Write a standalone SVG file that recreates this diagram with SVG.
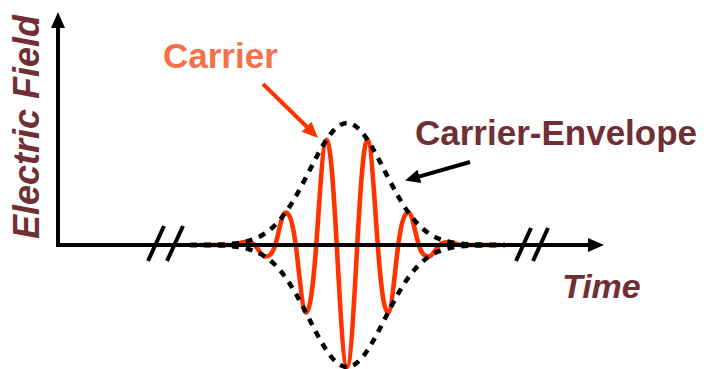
<svg xmlns="http://www.w3.org/2000/svg" width="709" height="369" viewBox="0 0 709 369">
<style>
.lbl{font-family:"Liberation Sans",Arial,sans-serif;font-weight:bold;font-size:35px}
.maroon{fill:#6f2f35}
.axis{stroke:#000;stroke-width:4;fill:none}
.brk{stroke:#000;stroke-width:4;fill:none}
.carrier{stroke:#ff3300;stroke-width:4.6;fill:none;stroke-linejoin:round}
.env{stroke:#000;stroke-width:4.5;fill:none;stroke-dasharray:7 7}
</style>
<rect width="709" height="369" fill="#fff"/>
<g id="carrier-wave">
<path class="carrier" d="M200,245 L234.25,245 C237.59,244.28 240.79,241.94 244.5,241.94 C248.21,241.94 251.41,241.84 254.75,245 C258.09,248.16 261.29,256.53 265,256.53 C268.71,256.53 271.91,255.27 275.25,245 C278.59,234.73 281.79,212.64 285.5,212.64 C289.21,212.64 292.41,220.13 295.75,245 C299.09,269.87 302.29,312.64 306,312.64 C309.71,312.64 312.91,289.85 316.25,245 C319.59,200.15 322.79,139.73 326.5,139.73 C330.21,139.73 333.41,184.76 336.75,245 C340.09,305.24 343.29,367 347,367 C350.71,367 353.91,305.24 357.25,245 C360.59,184.76 363.79,139.73 367.5,139.73 C371.21,139.73 374.41,200.15 377.75,245 C381.09,289.85 384.29,312.64 388,312.64 C391.71,312.64 394.91,269.87 398.25,245 C401.59,220.13 404.79,212.64 408.5,212.64 C412.21,212.64 415.41,234.73 418.75,245 C422.09,255.27 425.29,256.53 429,256.53 C432.71,256.53 435.91,248.16 439.25,245 C442.59,241.84 445.79,241.94 449.5,241.94 C453.21,241.94 456.41,244.28 459.75,245 L500,245"/>
</g>
<g id="axes">
<line class="axis" x1="58" y1="247" x2="58" y2="26"/>
<polygon points="58,12 51,28 65,28" fill="#000"/>
<line class="axis" x1="56" y1="245" x2="590" y2="245"/>
<polygon points="604,245 588,238 588,252" fill="#000"/>
<line class="brk" x1="148" y1="261" x2="164" y2="226"/>
<line class="brk" x1="167" y1="261" x2="183" y2="226"/>
<line class="brk" x1="516" y1="261" x2="531" y2="228"/>
<line class="brk" x1="533" y1="261" x2="548" y2="228"/>
</g>
<g id="envelope">
<path class="env" d="M190,245 L224,244.4 C230.83,244.05 237.67,243.44 244.5,241.94 C251.33,240.44 258.17,238 265,233.47 C271.83,228.94 278.67,222.18 285.5,212.64 C292.33,203.1 299.17,190.66 306,177.36 C312.83,164.06 319.67,150.08 326.5,139.73 C333.33,129.38 340.17,123 347,123 C353.83,123 360.67,129.38 367.5,139.73 C374.33,150.08 381.17,164.06 388,177.36 C394.83,190.66 401.67,203.1 408.5,212.64 C415.33,222.18 422.17,228.94 429,233.47 C435.83,238 442.67,240.44 449.5,241.94 C456.33,243.44 463.17,244.05 470,244.4 L505,245"/>
<path class="env" d="M190,245 L224,245.6 C230.83,245.95 237.67,246.56 244.5,248.06 C251.33,249.56 258.17,252 265,256.53 C271.83,261.06 278.67,267.82 285.5,277.36 C292.33,286.9 299.17,299.34 306,312.64 C312.83,325.94 319.67,339.92 326.5,350.27 C333.33,360.62 340.17,367 347,367 C353.83,367 360.67,360.62 367.5,350.27 C374.33,339.92 381.17,325.94 388,312.64 C394.83,299.34 401.67,286.9 408.5,277.36 C415.33,267.82 422.17,261.06 429,256.53 C435.83,252 442.67,249.56 449.5,248.06 C456.33,246.56 463.17,245.95 470,245.6 L505,245"/>
</g>
<g id="connectors">
<line x1="263" y1="84" x2="307" y2="127" stroke="#ff3300" stroke-width="4"/>
<polygon points="318,138 301.7,131.8 311.5,121.8" fill="#ff3300"/>
<line x1="470" y1="162" x2="418" y2="176.8" stroke="#000" stroke-width="4"/>
<polygon points="405,180.5 421.3,183.1 417.5,169.7" fill="#000"/>
</g>
<g id="label-electric-field">
<text class="lbl maroon" font-style="italic" text-anchor="middle" transform="translate(39,127) rotate(-90)" style="font-size:36px">Electric Field</text>
</g>
<g id="label-time">
<text class="lbl maroon" font-style="italic" x="562" y="298" style="font-size:34px">Time</text>
</g>
<g id="label-carrier">
<text class="lbl" x="163" y="68" fill="#f4714b">Carrier</text>
</g>
<g id="label-carrier-envelope">
<text class="lbl maroon" x="415" y="145">Carrier-Envelope</text>
</g>
</svg>
